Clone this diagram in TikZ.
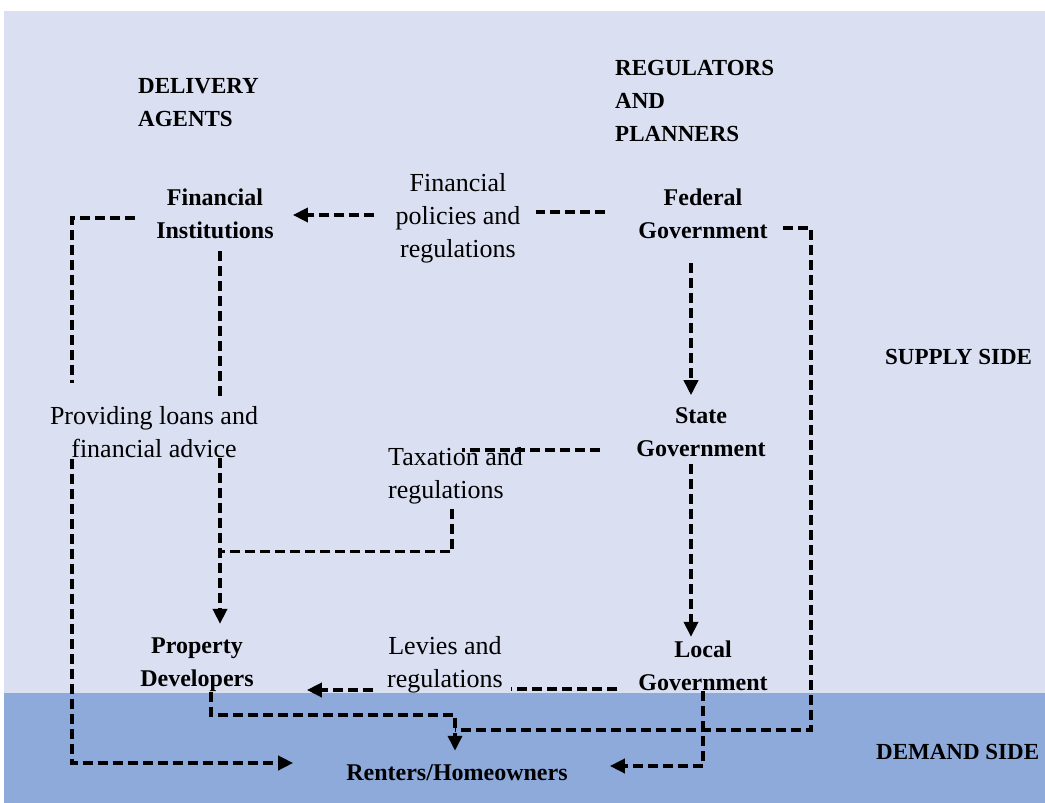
\documentclass[tikz,border=0pt]{standalone}
\usepackage{fontspec}
\setmainfont{Liberation Serif}
\usetikzlibrary{arrows.meta,calc}
\definecolor{supplyblue}{RGB}{218,224,242}
\definecolor{demandblue}{RGB}{142,170,219}

\begin{document}
\begin{tikzpicture}[x=1pt,y=-1pt,
	lbl/.style={align=center, inner sep=0pt, font=\fontsize{26}{33}\selectfont},
	actor/.style={align=center, inner sep=0pt, font=\fontsize{24}{33}\selectfont\bfseries},
	head/.style={align=left, anchor=west, inner sep=0pt, font=\fontsize{23}{33}\selectfont\bfseries},
	link/.style={line width=3.6pt, dash pattern=on 10pt off 5pt},
	flow/.style={link, -{Triangle[length=15pt,width=14pt]}}]
	\useasboundingbox (0,0) rectangle (1045,803);
	\fill[supplyblue] (4,11) rectangle (1045,693);
	\fill[demandblue] (4,693) rectangle (1045,803);

	\node[head] (agents) at (138,103) {DELIVERY\\AGENTS};
	\node[head] (planners) at (615,101) {REGULATORS\\AND\\PLANNERS};
	\node[head] (supply) at (885,357) {SUPPLY SIDE};
	\node[head] (demand) at (876,752) {DEMAND SIDE};

	\node[actor] (fin) at (215,214) {Financial\\Institutions};
	\node[lbl] (fpol) at (458,218) {Financial\\policies and\\regulations};
	\node[actor] (fed) at (703,214) {Federal\\Government};
	\node[lbl] (loans) at (154,432) {Providing loans and\\financial advice};
	\node[actor] (state) at (701,432) {State\\Government};
	\node[lbl, align=left, anchor=west] (tax) at (388,476) {Taxation and\\regulations};
	\node[actor] (dev) at (197,665) {Property\\Developers};
	\node[lbl] (levies) at (445,665) {Levies and\\regulations};
	\node[actor] (local) at (703,666) {Local\\Government};
	\node[actor] (renters) at (457,773) {Renters/Homeowners};

	\coordinate (join) at ($(fin.south |- tax.south)+(5,47)$);

	\draw[link] ($(fed.west)+(-33,-2)$) -- ($(fed.west -| fpol.east)+(15,-2)$);
	\draw[flow] ($(fin.east -| fpol.west)+(-21,1)$) -- ($(fin.east)+(19,1)$);
	\draw[link] ($(fin.west)+(-21,4)$) -| ($(loans.north west)+(22,-23)$);
	\draw[link] ($(fin.south)+(5,12)$) -- ($(fin.south |- loans.north)+(5,-8)$);
	\draw[flow] ($(loans.south west)+(22,1)$) |- ($(renters.west)+(-53,-10)$);
	\draw[flow] ($(fin.south |- loans.south)+(5,0)$) -- ($(fin.south |- dev.north)+(5,-14)$);
	\draw[link] ($(state.west)+(-36,18)$) -- ($(tax.west |- state.west)+(74,18)$);
	\draw[link] ($(tax.south west)+(64,4)$) |- (join);
	\draw[flow] ($(fed.south)+(-12,24)$) -- ($(fed.south |- state.north)+(-12,-12)$);
	\draw[flow] ($(state.south)+(-10,7)$) -- ($(state.south |- local.north)+(-10,-4)$);
	\draw[link] ($(local.south west)+(-21,-2)$) -- ($(local.south west -| levies.east)+(8,-2)$);
	\draw[flow] ($(levies.west)+(-14,25)$) -- ($(dev.east)+(53,25)$);
	\draw[flow] ($(dev.south)+(14,0)$) -- ++(0,23) -| ($(renters.north)+(-2,-14)$);
	\draw[link] ($(fed.east)+(15,14)$) -- ++(28,0) |- ($(renters.north)+(-2,-35)$);
	\draw[flow] (local.south) |- ($(renters.east)+(42,-7)$);
\end{tikzpicture}
\end{document}
